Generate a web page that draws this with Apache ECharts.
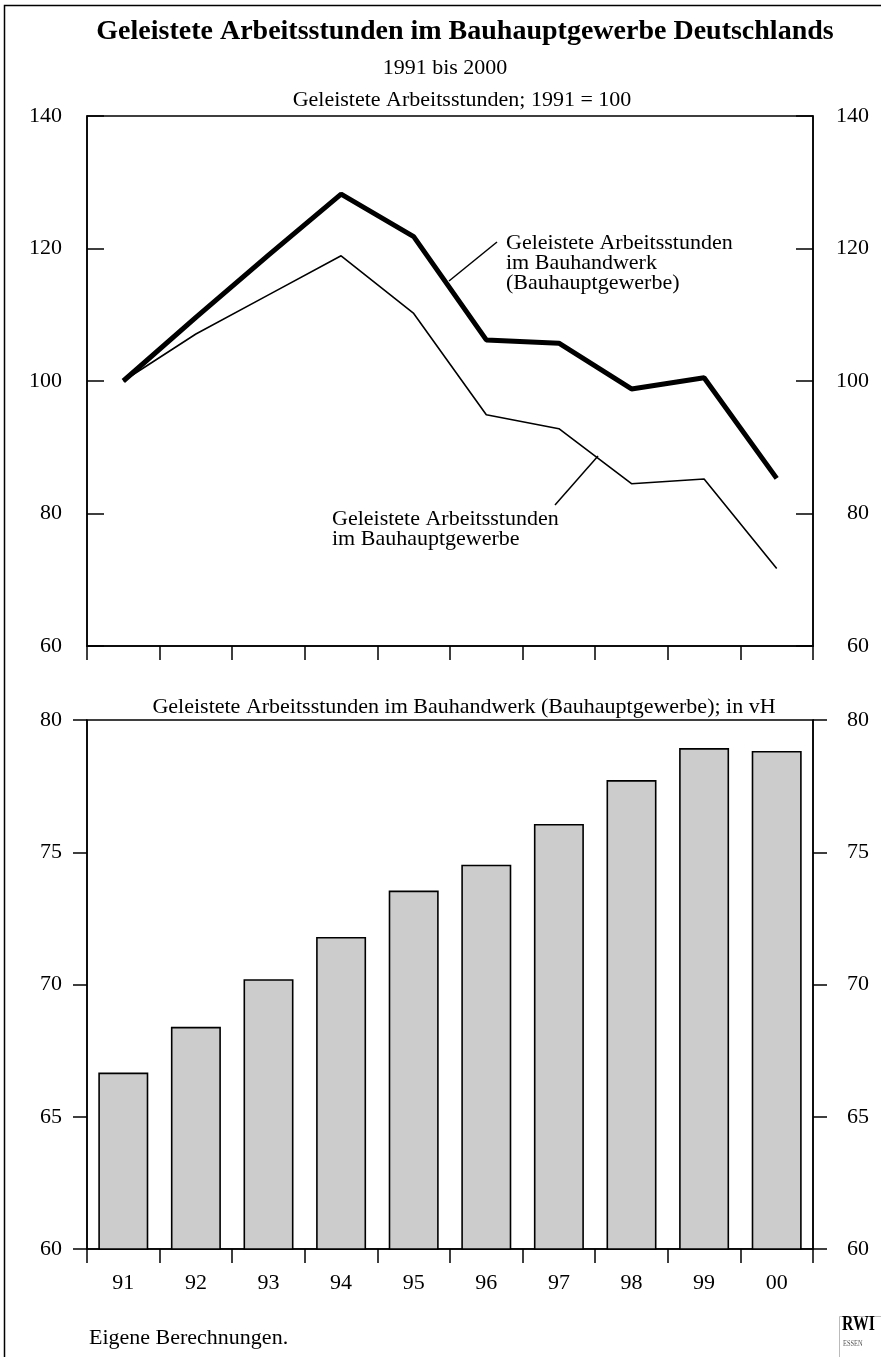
<!DOCTYPE html>
<html>
<head>
<meta charset="utf-8">
<script src="https://cdn.jsdelivr.net/npm/echarts@6/dist/echarts.min.js"></script>
<style>
html,body{margin:0;padding:0;background:#fff;}
#chart{width:881px;height:1357px;}
</style>
</head>
<body>
<div id="chart"></div>
<script>
// ---- data ----
const categories = ['91','92','93','94','95','96','97','98','99','00'];
const bauhandwerkIndex = [100, 109.6, 119.0, 128.2, 121.8, 106.2, 105.7, 98.8, 100.5, 85.3];
const bauhauptgewerbeIndex = [100, 107.1, 113.0, 118.9, 110.2, 94.9, 92.8, 84.5, 85.2, 71.7];
const bauhandwerkShare = [66.67, 68.4, 70.2, 71.8, 73.55, 74.53, 76.07, 77.73, 78.94, 78.83];

const topTicks = {min: 60, max: 140, interval: 20};
const bottomTicks = {min: 60, max: 80, interval: 5};

// ---- chart ----
const FONT = "'Liberation Serif', 'Times New Roman', serif";
const chart = echarts.init(document.getElementById('chart'), null, {renderer: 'canvas'});

function txt(text, x, y, size, opts) {
  opts = opts || {};
  const el = {
    type: 'text', x: x, y: y, silent: true,
    style: {
      text: text, fill: opts.fill || '#000', font: (opts.bold ? 'bold ' : '') + size + 'px ' + FONT,
      textAlign: opts.align || 'center', textVerticalAlign: 'middle'
    }
  };
  if (opts.scaleX) { el.scaleX = opts.scaleX; }
  return el;
}
function line(x1, y1, x2, y2, w) {
  return {type: 'line', silent: true, shape: {x1: x1, y1: y1, x2: x2, y2: y2},
          style: {stroke: '#000', lineWidth: w || 1.5}};
}

const axisLineStyle = {show: true, lineStyle: {color: '#000', width: 1.5}};
const labelStyle = {color: '#000', fontFamily: FONT, fontSize: 22};

const option = {
  animation: false,
  backgroundColor: '#fff',
  grid: [
    {left: 87, top: 116, width: 726, height: 530, show: true, borderColor: '#000', borderWidth: 1.5, backgroundColor: 'transparent'},
    {left: 87, top: 720, width: 726, height: 529, show: true, borderColor: '#000', borderWidth: 1.5, backgroundColor: 'transparent'}
  ],
  xAxis: [
    {type: 'category', gridIndex: 0, data: categories, boundaryGap: true,
     axisLine: axisLineStyle,
     axisTick: {show: true, interval: 0, inside: false, length: 14, lineStyle: {color: '#000', width: 1.5}},
     axisLabel: {show: false}, splitLine: {show: false}},
    {type: 'category', gridIndex: 1, data: categories, boundaryGap: true,
     axisLine: axisLineStyle,
     axisTick: {show: true, interval: 0, inside: false, length: 14, lineStyle: {color: '#000', width: 1.5}},
     axisLabel: Object.assign({margin: 23, interval: 0}, labelStyle), splitLine: {show: false}}
  ],
  yAxis: [
    {type: 'value', gridIndex: 0, position: 'left', min: topTicks.min, max: topTicks.max, interval: topTicks.interval,
     axisLine: axisLineStyle,
     axisTick: {show: true, inside: true, length: 17, lineStyle: {color: '#000', width: 1.5}},
     axisLabel: Object.assign({margin: 25}, labelStyle), splitLine: {show: false}},
    {type: 'value', gridIndex: 0, position: 'right', min: topTicks.min, max: topTicks.max, interval: topTicks.interval,
     axisLine: axisLineStyle,
     axisTick: {show: true, inside: true, length: 17, lineStyle: {color: '#000', width: 1.5}},
     axisLabel: Object.assign({margin: 56, align: 'right'}, labelStyle), splitLine: {show: false}},
    {type: 'value', gridIndex: 1, position: 'left', min: bottomTicks.min, max: bottomTicks.max, interval: bottomTicks.interval,
     axisLine: axisLineStyle,
     axisTick: {show: true, inside: false, length: 14, lineStyle: {color: '#000', width: 1.5}},
     axisLabel: Object.assign({margin: 25}, labelStyle), splitLine: {show: false}},
    {type: 'value', gridIndex: 1, position: 'right', min: bottomTicks.min, max: bottomTicks.max, interval: bottomTicks.interval,
     axisLine: axisLineStyle,
     axisTick: {show: true, inside: false, length: 14, lineStyle: {color: '#000', width: 1.5}},
     axisLabel: Object.assign({margin: 56, align: 'right'}, labelStyle), splitLine: {show: false}}
  ],
  series: [
    {name: 'Geleistete Arbeitsstunden im Bauhauptgewerbe', type: 'line', xAxisIndex: 0, yAxisIndex: 0,
     data: bauhauptgewerbeIndex, showSymbol: false, symbol: 'none',
     lineStyle: {color: '#000', width: 1.6}, z: 3},
    {name: 'Geleistete Arbeitsstunden im Bauhandwerk (Bauhauptgewerbe)', type: 'line', xAxisIndex: 0, yAxisIndex: 0,
     data: bauhandwerkIndex, showSymbol: false, symbol: 'none',
     lineStyle: {color: '#000', width: 5}, z: 4},
    {name: 'Anteil Bauhandwerk', type: 'bar', xAxisIndex: 1, yAxisIndex: 2,
     data: bauhandwerkShare, barWidth: 50,
     itemStyle: {color: '#cccccc', borderColor: '#000', borderWidth: 1.6}}
  ],
  graphic: [
    {type: 'rect', silent: true, shape: {x: 4.5, y: 5.5, width: 900, height: 1400},
     style: {fill: 'none', stroke: '#000', lineWidth: 1.5}},
    txt('Geleistete Arbeitsstunden im Bauhauptgewerbe Deutschlands', 465, 32, 28, {bold: true}),
    txt('1991 bis 2000', 445, 68, 22),
    txt('Geleistete Arbeitsstunden; 1991 = 100', 462, 100, 22),
    txt('Geleistete Arbeitsstunden im Bauhandwerk (Bauhauptgewerbe); in vH', 464, 707, 22),
    // annotations
    line(497, 242, 449, 281, 1.5),
    txt('Geleistete Arbeitsstunden', 506, 243, 22, {align: 'left'}),
    txt('im Bauhandwerk', 506, 263, 22, {align: 'left'}),
    txt('(Bauhauptgewerbe)', 506, 283, 22, {align: 'left'}),
    line(598, 456, 555, 505, 1.5),
    txt('Geleistete Arbeitsstunden', 332, 519, 22, {align: 'left'}),
    txt('im Bauhauptgewerbe', 332, 539, 22, {align: 'left'}),
    // footer
    txt('Eigene Berechnungen.', 89, 1338, 22, {align: 'left'}),
    {type: 'rect', silent: true, shape: {x: 839.5, y: 1316.5, width: 50, height: 45},
     style: {fill: '#fff', stroke: '#bbb', lineWidth: 1}},
    txt('RWI', 842, 1324, 22, {align: 'left', bold: true, scaleX: 0.72}),
    txt('ESSEN', 843, 1344, 8, {align: 'left', fill: '#555', scaleX: 0.8})
  ]
};
chart.setOption(option);
</script>
</body>
</html>
